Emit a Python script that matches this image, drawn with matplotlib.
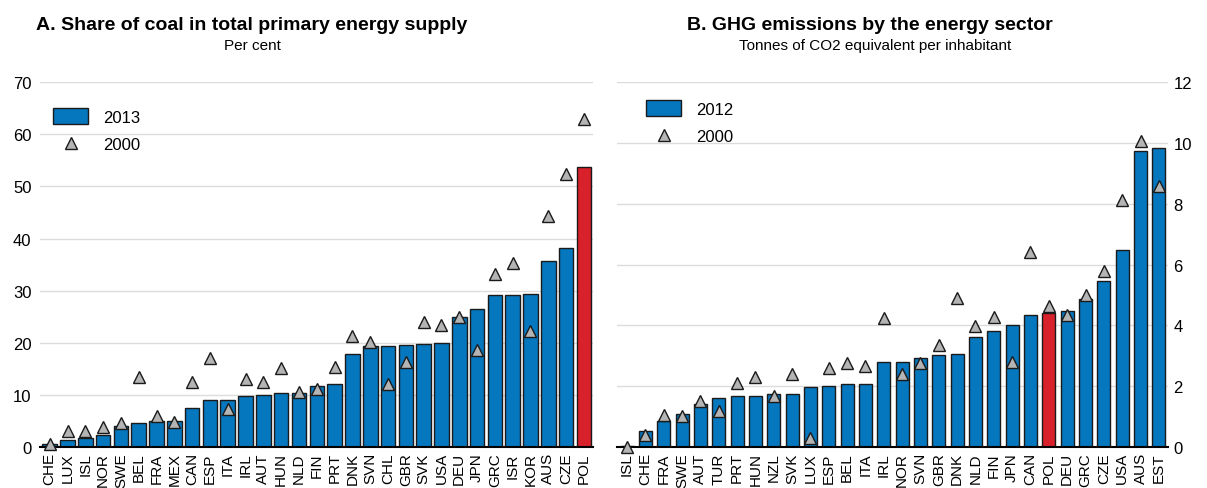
import numpy as np
import matplotlib
matplotlib.use("Agg")
import matplotlib.pyplot as plt
from matplotlib.patches import Patch
from matplotlib.lines import Line2D

plt.rcParams["font.family"] = ["Liberation Sans", "DejaVu Sans"]

# Panel A: share of coal in total primary energy supply (per cent)
coal_countries = ["CHE", "LUX", "ISL", "NOR", "SWE", "BEL", "FRA", "MEX", "CAN", "ESP",
                  "ITA", "IRL", "AUT", "HUN", "NLD", "FIN", "PRT", "DNK", "SVN", "CHL",
                  "GBR", "SVK", "USA", "DEU", "JPN", "GRC", "ISR", "KOR", "AUS", "CZE", "POL"]
coal_2013 = [0.5, 1.2, 1.7, 2.3, 4.0, 4.5, 5.0, 5.0, 7.4, 9.0,
             9.0, 9.7, 10.0, 10.3, 10.4, 11.6, 12.0, 17.9, 19.4, 19.4,
             19.5, 19.7, 19.9, 24.9, 26.5, 29.1, 29.1, 29.3, 35.7, 38.1, 53.8]
coal_2000 = [0.5, 3.1, 3.0, 3.8, 4.5, 13.3, 5.8, 4.7, 12.4, 17.0,
             7.2, 13.1, 12.4, 15.2, 10.6, 11.1, 15.4, 21.2, 20.2, 12.0,
             16.3, 23.9, 23.3, 25.0, 18.6, 33.2, 35.3, 22.2, 44.4, 52.4, 63.0]

# Panel B: GHG emissions by the energy sector (tonnes CO2 eq. per inhabitant)
ghg_countries = ["ISL", "CHE", "FRA", "SWE", "AUT", "TUR", "PRT", "HUN", "NZL", "SVK",
                 "LUX", "ESP", "BEL", "ITA", "IRL", "NOR", "SVN", "GBR", "DNK", "NLD",
                 "FIN", "JPN", "CAN", "POL", "DEU", "GRC", "CZE", "USA", "AUS", "EST"]
ghg_2012 = [0.02, 0.53, 0.86, 1.08, 1.41, 1.59, 1.66, 1.66, 1.73, 1.73,
            1.95, 1.99, 2.06, 2.06, 2.78, 2.80, 2.92, 3.02, 3.04, 3.60,
            3.81, 4.02, 4.34, 4.40, 4.46, 4.86, 5.47, 6.49, 9.74, 9.85]
ghg_2000 = [0.0, 0.40, 1.04, 1.00, 1.52, 1.19, 2.10, 2.28, 1.66, 2.39,
            0.27, 2.59, 2.76, 2.67, 4.24, 2.39, 2.76, 3.36, 4.89, 3.99,
            4.26, 2.80, 6.42, 4.62, 4.34, 5.01, 5.78, 8.14, 10.08, 8.60]

BLUE = "#0577bf"
RED = "#d9212b"
GREY = "#b4b4b4"


def panel(ax, countries, bars, points, ymax, width, label_bar, legend_at, right=False):
    x = np.arange(len(countries))
    colors = [RED if c == "POL" else BLUE for c in countries]
    ax.bar(x, bars, width=width, color=colors, edgecolor="#1a1a1a", linewidth=1.0, zorder=2)
    ax.plot(x, points, linestyle="none", marker="^", markersize=9, markerfacecolor=GREY,
            markeredgecolor="#1a1a1a", markeredgewidth=1.0, zorder=3, clip_on=False)
    ax.set_ylim(0, ymax)
    ax.set_xlim(-0.55, len(countries) - 0.5)
    ax.set_xticks(x)
    ax.set_xticklabels(countries, rotation=90, fontsize=11)
    ax.grid(axis="y", color="#dcdcdc", linewidth=1.0, zorder=0)
    ax.set_axisbelow(True)
    for s in ["top", "left", "right"]:
        ax.spines[s].set_visible(False)
    ax.spines["bottom"].set_linewidth(1.5)
    ax.tick_params(axis="both", length=0)
    ax.tick_params(axis="x", pad=4, labelsize=11)
    ax.tick_params(axis="y", labelsize=12)
    if right:
        ax.yaxis.tick_right()
        ax.tick_params(axis="y", pad=4)
    else:
        ax.tick_params(axis="y", pad=6)
    handles = [Patch(facecolor=BLUE, edgecolor="#1a1a1a", linewidth=1.0),
               Line2D([], [], linestyle="none", marker="^", markersize=9,
                      markerfacecolor=GREY, markeredgecolor="#1a1a1a")]
    ax.legend(handles, [label_bar, "2000"], loc="upper left", frameon=False, fontsize=12,
              handlelength=2.1, handleheight=1.1, handletextpad=0.9, labelspacing=0.65,
              bbox_to_anchor=legend_at)


fig = plt.figure(figsize=(12.07, 4.89), dpi=100)
ax1 = fig.add_axes([0.0331, 0.0845, 0.458, 0.745])
ax2 = fig.add_axes([0.5112, 0.0845, 0.4565, 0.745])

panel(ax1, coal_countries, coal_2013, coal_2000, 70, 0.82, "2013", (-0.003, 0.97))
ax1.set_yticks(range(0, 71, 10))
panel(ax2, ghg_countries, ghg_2012, ghg_2000, 12, 0.72, "2012", (0.026, 0.992), right=True)
ax2.set_yticks(range(0, 13, 2))

fig.text(252 / 1207, 1 - 30 / 489, "A. Share of coal in total primary energy supply",
         ha="center", va="baseline", fontsize=14, fontweight="bold")
fig.text(252 / 1207, 1 - 50 / 489, "Per cent", ha="center", va="baseline", fontsize=11)
fig.text(870 / 1207, 1 - 30 / 489, "B. GHG emissions by the energy sector",
         ha="center", va="baseline", fontsize=14, fontweight="bold")
fig.text(875 / 1207, 1 - 50 / 489, "Tonnes of CO2 equivalent per inhabitant",
         ha="center", va="baseline", fontsize=11)

fig.savefig("out.png", dpi=100)
